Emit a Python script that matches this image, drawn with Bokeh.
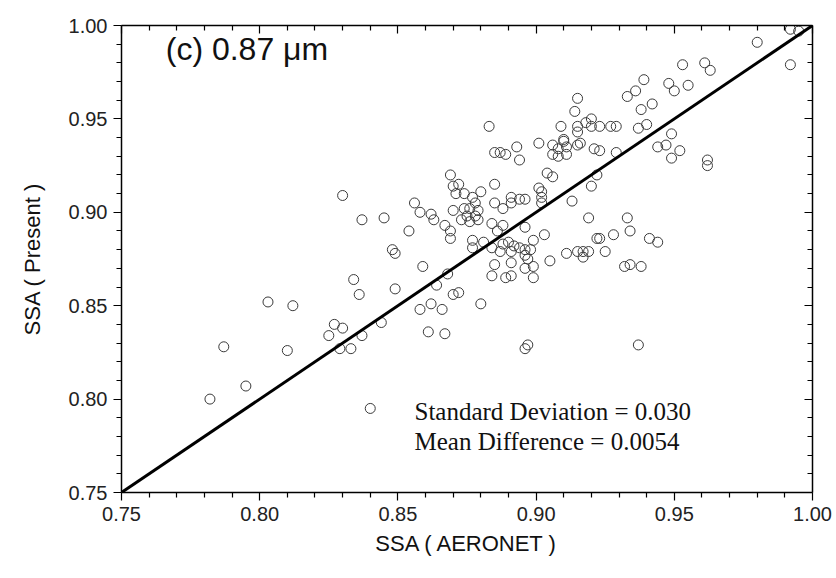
from bokeh.plotting import figure
from bokeh.models import (Range1d, LinearAxis, FixedTicker, PrintfTickFormatter, Label,
                          CustomLabelingPolicy)
from bokeh.embed import file_html
from bokeh.resources import INLINE

# SSA at 0.87 um: AERONET (x) vs Present retrieval (y)
aeronet = [
    0.782, 0.787, 0.795, 0.803, 0.810, 0.812, 0.825, 0.827, 0.830, 0.829,
    0.833, 0.837, 0.844, 0.830, 0.837, 0.845, 0.834, 0.836, 0.840, 0.848,
    0.849, 0.849, 0.854, 0.856, 0.858, 0.862, 0.863, 0.869, 0.870, 0.872,
    0.871, 0.874, 0.877, 0.880, 0.885, 0.885, 0.870, 0.874, 0.876, 0.878,
    0.879, 0.875, 0.878, 0.873, 0.876, 0.879, 0.867, 0.869, 0.869, 0.877,
    0.877, 0.881, 0.884, 0.886, 0.888, 0.859, 0.884, 0.885, 0.868, 0.864,
    0.870, 0.872, 0.858, 0.862, 0.866, 0.880, 0.861, 0.867, 0.883, 0.884,
    0.889, 0.891, 0.885, 0.887, 0.889, 0.893, 0.894, 0.901, 0.906, 0.908,
    0.910, 0.911, 0.915, 0.916, 0.906, 0.908, 0.911, 0.921, 0.923, 0.929,
    0.904, 0.906, 0.901, 0.902, 0.920, 0.922, 0.888, 0.891, 0.891, 0.894,
    0.896, 0.902, 0.902, 0.913, 0.919, 0.896, 0.922, 0.888, 0.890, 0.892,
    0.894, 0.896, 0.898, 0.899, 0.903, 0.887, 0.891, 0.896, 0.897, 0.911,
    0.915, 0.917, 0.919, 0.917, 0.905, 0.891, 0.896, 0.899, 0.899, 0.914,
    0.915, 0.909, 0.915, 0.915, 0.918, 0.920, 0.920, 0.923, 0.927, 0.929,
    0.910, 0.953, 0.961, 0.963, 0.939, 0.948, 0.950, 0.955, 0.933, 0.936,
    0.942, 0.938, 0.937, 0.940, 0.949, 0.944, 0.947, 0.952, 0.949, 0.962,
    0.962, 0.933, 0.923, 0.928, 0.934, 0.941, 0.944, 0.925, 0.932, 0.934,
    0.938, 0.937, 0.980, 0.992, 0.992, 0.995, 0.896, 0.897,
]
present = [
    0.800, 0.828, 0.807, 0.852, 0.826, 0.850, 0.834, 0.840, 0.838, 0.827,
    0.827, 0.834, 0.841, 0.909, 0.896, 0.897, 0.864, 0.856, 0.795, 0.880,
    0.878, 0.859, 0.890, 0.905, 0.900, 0.899, 0.896, 0.920, 0.914, 0.915,
    0.910, 0.910, 0.908, 0.911, 0.915, 0.905, 0.901, 0.902, 0.902, 0.905,
    0.901, 0.898, 0.898, 0.896, 0.895, 0.896, 0.893, 0.890, 0.886, 0.885,
    0.881, 0.884, 0.894, 0.890, 0.893, 0.871, 0.881, 0.872, 0.867, 0.861,
    0.856, 0.857, 0.848, 0.851, 0.848, 0.851, 0.836, 0.835, 0.946, 0.866,
    0.865, 0.866, 0.932, 0.932, 0.931, 0.935, 0.928, 0.937, 0.936, 0.934,
    0.938, 0.935, 0.936, 0.937, 0.931, 0.930, 0.931, 0.934, 0.933, 0.932,
    0.921, 0.919, 0.913, 0.911, 0.914, 0.920, 0.902, 0.908, 0.905, 0.907,
    0.907, 0.908, 0.905, 0.906, 0.897, 0.892, 0.886, 0.883, 0.884, 0.882,
    0.881, 0.880, 0.880, 0.885, 0.888, 0.879, 0.879, 0.877, 0.875, 0.878,
    0.879, 0.879, 0.879, 0.876, 0.874, 0.873, 0.870, 0.871, 0.865, 0.954,
    0.961, 0.946, 0.946, 0.943, 0.948, 0.950, 0.946, 0.946, 0.946, 0.946,
    0.939, 0.979, 0.980, 0.976, 0.971, 0.969, 0.965, 0.968, 0.962, 0.965,
    0.958, 0.955, 0.945, 0.947, 0.942, 0.935, 0.936, 0.933, 0.929, 0.928,
    0.925, 0.897, 0.886, 0.888, 0.890, 0.886, 0.884, 0.879, 0.871, 0.872,
    0.871, 0.829, 0.991, 0.979, 0.998, 0.997, 0.827, 0.829,
]
one_to_one = [0.75, 1.00]
major_ticks = [0.75, 0.80, 0.85, 0.90, 0.95, 1.00]
minor_ticks = [0.76, 0.77, 0.78, 0.79, 0.81, 0.82, 0.83, 0.84, 0.86, 0.87, 0.88, 0.89,
               0.91, 0.92, 0.93, 0.94, 0.96, 0.97, 0.98, 0.99]
panel_label = "(c) 0.87 μm"
stat_lines = ["Standard Deviation = 0.030", "Mean Difference = 0.0054"]
x_title = "SSA ( AERONET )"
y_title = "SSA ( Present )"

SANS = "Liberation Sans"
SERIF = "Liberation Serif"

p = figure(frame_width=691, frame_height=467,
           x_range=Range1d(0.75, 1.0), y_range=Range1d(0.75, 1.0),
           x_axis_type=None, y_axis_type=None,
           output_backend="svg", toolbar_location=None,
           min_border_left=121, min_border_right=20,
           min_border_top=25, min_border_bottom=78)
p.outline_line_color = None
p.background_fill_color = "white"
p.border_fill_color = "white"


def make_axis(label=None, show_labels=True, inward=False, label_standoff=7):
    ax = LinearAxis(ticker=FixedTicker(ticks=major_ticks, minor_ticks=minor_ticks),
                    formatter=PrintfTickFormatter(format="%.2f"))
    ax.axis_line_color = "black"
    ax.axis_line_width = 1.5
    ax.major_tick_line_color = "black"
    ax.minor_tick_line_color = "black"
    ax.major_tick_line_width = 1.2
    ax.minor_tick_line_width = 1.2
    if inward:
        ax.major_tick_in, ax.major_tick_out = 8, 0
        ax.minor_tick_in, ax.minor_tick_out = 5, 0
    else:
        ax.major_tick_in, ax.major_tick_out = 0, 8
        ax.minor_tick_in, ax.minor_tick_out = 0, 5
    if show_labels:
        ax.major_label_text_font = SANS
        ax.major_label_text_font_size = "20px"
        ax.major_label_text_color = "#222222"
        ax.major_label_standoff = 6
    else:
        ax.major_label_policy = CustomLabelingPolicy(code="return new Set()")
        ax.major_label_standoff = 0
    if label:
        ax.axis_label = label
        ax.axis_label_text_font = SANS
        ax.axis_label_text_font_size = "22px"
        ax.axis_label_text_font_style = "normal"
        ax.axis_label_text_color = "#111111"
        ax.axis_label_standoff = label_standoff
    return ax


p.add_layout(make_axis(x_title, label_standoff=7), "below")
p.add_layout(make_axis(y_title, label_standoff=21), "left")
p.add_layout(make_axis(None, show_labels=False, inward=True), "above")
p.add_layout(make_axis(None, show_labels=False, inward=True), "right")

p.scatter(aeronet, present, marker="circle", size=10, fill_color=None,
          line_color="#3a3a3a", line_width=1)
p.line(one_to_one, one_to_one, line_color="black", line_width=3)

p.add_layout(Label(x=0.766, y=0.9875, text=panel_label, text_font=SANS,
                   text_font_size="32px", text_baseline="alphabetic",
                   text_color="#111111"))
p.add_layout(Label(x=0.856, y=0.7935, text=stat_lines[0], text_font=SERIF,
                   text_font_size="25px", text_baseline="alphabetic",
                   text_color="#111111"))
p.add_layout(Label(x=0.856, y=0.7775, text=stat_lines[1], text_font=SERIF,
                   text_font_size="25px", text_baseline="alphabetic",
                   text_color="#111111"))

open("out.html", "w").write(file_html(p, INLINE))
